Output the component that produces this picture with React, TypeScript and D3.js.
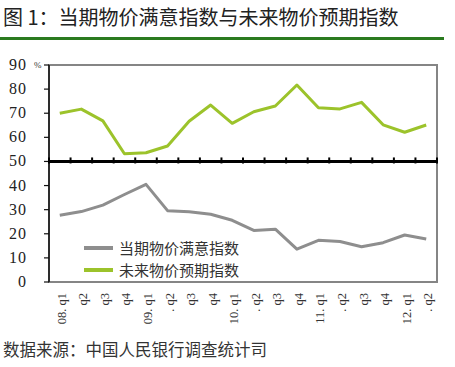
import React from "react";
import * as d3 from "d3";

// quarter labels along the x axis
const quarters = [
  "08. q1", "q2", "q3", "q4",
  "09. q1", ". q2", "q3", "q4",
  "10. q1", ". q2", "q3", "q4",
  "11. q1", ". q2", "q3", "q4",
  "12. q1", ". q2",
];

// 当期物价满意指数
const satisfaction = [
  27.7, 29.2, 31.9, 36.3, 40.5, 29.6, 29.1, 28.1, 25.6, 21.4, 21.9, 13.6,
  17.3, 16.8, 14.6, 16.3, 19.5, 17.8,
];

// 未来物价预期指数
const expectation = [
  70.0, 71.7, 66.8, 53.2, 53.6, 56.4, 66.7, 73.4, 65.8, 70.6, 73.0, 81.7,
  72.3, 71.8, 74.5, 65.2, 62.1, 65.1,
];

const yTicks = [0, 10, 20, 30, 40, 50, 60, 70, 80, 90];

const seriesNames = ["当期物价满意指数", "未来物价预期指数"];
const seriesColors = ["#8e8e8e", "#9cc32b"];

const W = 455;
const H = 367;
const plot = { left: 49, right: 437, top: 65, bottom: 282 };

const App: React.FC = () => {
  const x = d3
    .scaleBand<string>()
    .domain(quarters.map((_, i) => String(i)))
    .range([plot.left, plot.right]);
  const y = d3.scaleLinear().domain([0, 90]).range([plot.bottom, plot.top]);

  const line = d3
    .line<number>()
    .x((_, i) => (x(String(i)) || 0) + x.bandwidth() / 2)
    .y((d) => y(d));

  const y50 = y(50);
  const boundaries = d3.range(quarters.length + 1).map(
    (i) => plot.left + i * x.bandwidth()
  );

  const serif = "'Liberation Serif', 'DejaVu Serif', serif";
  const cjk = "'Noto Sans CJK SC', sans-serif";

  return (
    <svg
      width={W}
      height={H}
      style={{ position: "absolute", left: 0, top: 0, background: "#fff" }}
    >
      {/* title */}
      <text x={3} y={25} fontSize={20} fontFamily={cjk} fill="#222">
        图 1：当期物价满意指数与未来物价预期指数
      </text>
      <rect x={0} y={37} width={444} height={3} fill="#2a7a1f" />

      {/* plot frame */}
      <rect
        x={plot.left}
        y={plot.top}
        width={plot.right - plot.left}
        height={plot.bottom - plot.top}
        fill="none"
        stroke="#858585"
        strokeWidth={2}
      />
      <line
        x1={plot.left}
        x2={plot.left}
        y1={plot.top}
        y2={plot.bottom}
        stroke="#111"
        strokeWidth={1.5}
      />

      {/* y axis ticks and labels */}
      {yTicks.map((t) => (
        <g key={t}>
          <line
            x1={plot.left - 5}
            x2={plot.left}
            y1={y(t)}
            y2={y(t)}
            stroke="#111"
            strokeWidth={1.2}
          />
          <text
            x={27}
            y={y(t) + 5}
            textAnchor="end"
            fontSize={16}
            letterSpacing={1}
            fontFamily={serif}
            fill="#222"
          >
            {t}
          </text>
        </g>
      ))}
      <text x={34} y={y(90) + 3} fontSize={9} fontFamily={serif} fill="#333">
        %
      </text>

      {/* category axis crossing at 50 */}
      <line
        x1={plot.left}
        x2={plot.right + 1}
        y1={y50}
        y2={y50}
        stroke="#000"
        strokeWidth={3}
      />
      {boundaries.map((bx, i) => (
        <line
          key={i}
          x1={bx}
          x2={bx}
          y1={y50 - 4}
          y2={y50 + 2}
          stroke="#000"
          strokeWidth={2}
        />
      ))}

      {/* x labels */}
      {quarters.map((q, i) => {
        const cx = (x(String(i)) || 0) + x.bandwidth() / 2;
        return (
          <text
            key={i}
            transform={`translate(${cx + 6},${plot.bottom + 11}) rotate(-90)`}
            textAnchor="end"
            fontSize={12.5}
            fontFamily={serif}
            fill="#333"
          >
            {q}
          </text>
        );
      })}

      {/* series */}
      {[satisfaction, expectation].map((s, k) => (
        <path
          key={k}
          d={line(s) || ""}
          fill="none"
          stroke={seriesColors[k]}
          strokeWidth={3}
          strokeLinejoin="round"
        />
      ))}

      {/* legend */}
      {seriesNames.map((name, k) => (
        <g key={name} transform={`translate(84,${248 + k * 22})`}>
          <line x1={0} x2={29} y1={0} y2={0} stroke={seriesColors[k]} strokeWidth={4} />
          <text x={35} y={6} fontSize={15} fontFamily={cjk} fill="#333">
            {name}
          </text>
        </g>
      ))}

      {/* source */}
      <text x={3} y={356} fontSize={16.5} fontFamily={cjk} fill="#333">
        数据来源：中国人民银行调查统计司
      </text>
    </svg>
  );
};

export default App;
